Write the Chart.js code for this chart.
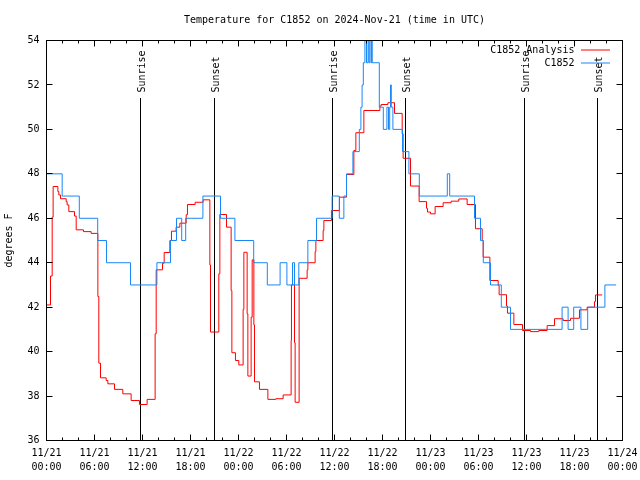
<!DOCTYPE html>
<html>
<head>
<meta charset="utf-8">
<script src="https://cdn.jsdelivr.net/npm/chart.js@4.4.1/dist/chart.umd.min.js"></script>
<style>
html,body{margin:0;padding:0;background:#fff;}
#wrap{width:640px;height:480px;}
</style>
</head>
<body>
<div id="wrap"><canvas id="c" width="640" height="480"></canvas></div>
<script>
// ---- data (hours since 2024-11-21 00:00 UTC) ----
const titleText = 'Temperature for C1852 on 2024-Nov-21 (time in UTC)';
const seriesNames = ['C1852 Analysis', 'C1852'];

const redTimes = [0.0, 0.5, 0.71, 0.83, 1.42, 1.54, 1.75, 2.46, 2.58, 2.79, 3.5, 3.71, 4.62, 5.58, 6.42, 6.54, 6.75, 7.46, 7.67, 8.5,
  9.54, 10.58, 11.62, 12.58, 13.58, 13.71, 14.5, 14.71, 15.42, 15.62, 16.2, 16.67, 17.46, 17.62, 18.58, 19.58, 20.42, 20.5, 21.54, 21.67,
  22.5, 23.08, 23.17, 23.62, 24.04, 24.58, 24.67, 25.08, 25.17, 25.58, 25.71, 25.92, 26.0, 26.62, 27.67, 28.67, 29.58, 30.58, 30.62, 31.0,
  31.08, 31.58, 32.58, 32.67, 33.58, 33.67, 34.58, 34.67, 35.62, 36.62, 37.5, 38.42, 38.67, 39.67, 41.67, 41.83, 42.67, 43.5, 44.46, 44.58,
  45.5, 46.58, 47.5, 47.62, 48.0, 48.58, 49.58, 50.58, 51.54, 52.58, 53.62, 54.46, 54.58, 55.42, 56.46, 56.58, 57.5, 57.62, 58.42, 59.5,
  60.5, 61.54, 62.58, 63.5, 64.58, 65.5, 66.62, 67.58, 68.5, 68.62, 69.46];
const redValues = [42.1, 43.4, 46.05, 47.43, 47.2, 47.05, 46.88, 46.75, 46.6, 46.3, 46.1, 45.48, 45.4, 45.32, 42.48, 39.48, 38.82, 38.7, 38.55, 38.3,
  38.1, 37.8, 37.62, 37.85, 40.8, 43.68, 43.98, 44.46, 45.0, 45.42, 45.6, 45.78, 46.16, 46.62, 46.72, 46.83, 43.9, 40.88, 43.5, 46.17,
  45.6, 42.75, 39.95, 39.6, 39.4, 41.9, 44.47, 41.7, 38.9, 41.55, 44.13, 41.2, 38.64, 38.3, 37.85, 37.88, 38.05, 40.5, 43.0, 40.4,
  37.72, 43.3, 43.68, 44.0, 44.5, 45.0, 45.45, 45.9, 46.35, 46.95, 47.97, 49.05, 49.85, 50.85, 51.05, 51.12, 51.2, 50.72, 49.8, 48.7,
  47.45, 46.75, 46.45, 46.28, 46.2, 46.53, 46.7, 46.77, 46.87, 46.62, 45.53, 45.0, 44.25, 43.2, 42.98, 42.56, 42.05, 41.73, 41.22, 40.95,
  40.9, 40.95, 41.17, 41.48, 41.4, 41.5, 41.88, 42.0, 42.25, 42.55, 42.55];

const blueTimes = [0, 1.96, 4.1, 6.4, 7.5, 10.5, 13.8, 15.5, 16.25, 16.9, 17.4, 19.55, 21.75, 23.55, 25.9, 27.6, 29.2, 30.05, 30.75, 31.0,
  31.54, 32.67, 33.75, 35.7, 36.6, 37.17, 37.5, 38.3, 39.1, 39.3, 39.45, 39.6, 39.8, 40.0, 40.2, 40.3, 40.42, 40.58, 40.65, 40.71,
  41.6, 42.1, 42.55, 42.75, 42.9, 43.0, 43.1, 43.3, 44.5, 45.3, 46.6, 50.1, 50.4, 53.5, 54.25, 54.6, 55.5, 56.85, 58.0, 64.45,
  65.2, 65.9, 66.8, 67.65, 69.8, 71.2];
const blueValues = [48, 47, 46, 45, 44, 43, 44, 45, 46, 45, 46, 47, 46, 45, 44, 43, 44, 43, 44, 43,
  44, 45, 46, 47, 46, 47, 48, 49, 50, 51, 52, 53, 55, 53, 55, 53, 55, 53, 55, 53,
  51, 50, 51, 50, 51, 52, 51, 50, 49, 48, 47, 48, 47, 46, 45, 44, 43, 42, 41, 42,
  41, 42, 41, 42, 43, 43];

const sunriseTimes = [11.7, 35.7, 59.7];
const sunsetTimes = [20.95, 44.85, 68.83];

const xTickLabels = ['11/21\n00:00', '11/21\n06:00', '11/21\n12:00', '11/21\n18:00', '11/22\n00:00', '11/22\n06:00', '11/22\n12:00',
  '11/22\n18:00', '11/23\n00:00', '11/23\n06:00', '11/23\n12:00', '11/23\n18:00', '11/24\n00:00'];
const yTickValues = [36, 38, 40, 42, 44, 46, 48, 50, 52, 54];
const yAxisTitle = 'degrees F';

// ---- styles ----
const FONT = '"DejaVu Sans Mono", "Liberation Mono", monospace';
const RED = '#ff0000';
const BLUE = 'rgb(25,135,245)';

const toPoints = (ts, vs) => ts.map((t, i) => ({x: t, y: vs[i]}));

const decor = {
  id: 'decor',
  beforeDatasetsDraw(chart) {
    const {ctx, chartArea: a, scales: {x}} = chart;
    ctx.save();
    ctx.strokeStyle = '#000';
    ctx.fillStyle = '#000';
    ctx.lineWidth = 1;
    ctx.font = '10px ' + FONT;
    const marks = sunriseTimes.map(t => [t, 'Sunrise']).concat(sunsetTimes.map(t => [t, 'Sunset']));
    marks.forEach(([t, lab]) => {
      const px = Math.round(x.getPixelForValue(t) - 0.5) + 0.5;
      ctx.beginPath();
      ctx.moveTo(px, a.top + 57.5);
      ctx.lineTo(px, a.bottom);
      ctx.stroke();
      ctx.save();
      ctx.translate(px + 1.5, a.top + 52);
      ctx.rotate(-Math.PI / 2);
      ctx.textAlign = 'left';
      ctx.textBaseline = 'middle';
      ctx.fillText(lab, 0, 0);
      ctx.restore();
    });
    ctx.restore();
  },
  afterDatasetsDraw(chart) {
    const {ctx, chartArea: a, scales: {x, y}} = chart;
    ctx.save();
    ctx.strokeStyle = '#000';
    ctx.lineWidth = 1;
    ctx.strokeRect(a.left, a.top, a.right - a.left, a.bottom - a.top);
    ctx.beginPath();
    for (let h = 0; h <= 72; h += 2) {
      const px = Math.round(x.getPixelForValue(h) - 0.5) + 0.5;
      const len = (h % 6 === 0) ? 6 : 3;
      ctx.moveTo(px, a.bottom); ctx.lineTo(px, a.bottom - len);
      ctx.moveTo(px, a.top); ctx.lineTo(px, a.top + len);
    }
    yTickValues.forEach(v => {
      const py = Math.round(y.getPixelForValue(v) - 0.5) + 0.5;
      ctx.moveTo(a.left, py); ctx.lineTo(a.left + 6, py);
      ctx.moveTo(a.right, py); ctx.lineTo(a.right - 6, py);
    });
    ctx.stroke();
    // legend
    ctx.font = '10px ' + FONT;
    ctx.textAlign = 'right';
    ctx.textBaseline = 'middle';
    ctx.fillStyle = '#000';
    const rows = [[seriesNames[0], RED], [seriesNames[1], BLUE]];
    rows.forEach(([name, col], i) => {
      const ry = a.top + 9.5 + i * 13;
      ctx.fillText(name, a.right - 48, ry);
      ctx.strokeStyle = col;
      ctx.beginPath();
      ctx.moveTo(a.right - 41.5, ry);
      ctx.lineTo(a.right - 12.5, ry);
      ctx.stroke();
    });
    ctx.restore();
  }
};

new Chart(document.getElementById('c'), {
  type: 'line',
  data: {
    datasets: [
      {label: seriesNames[0], data: toPoints(redTimes, redValues), borderColor: RED, borderWidth: 1,
       pointRadius: 0, stepped: true, fill: false, order: 1},
      {label: seriesNames[1], data: toPoints(blueTimes, blueValues), borderColor: BLUE, borderWidth: 1,
       pointRadius: 0, stepped: true, fill: false, order: 0}
    ]
  },
  options: {
    responsive: false,
    animation: false,
    devicePixelRatio: 1,
    layout: {padding: {left: 0, right: 17.5, top: 0, bottom: 0}},
    plugins: {
      legend: {display: false},
      tooltip: {enabled: false},
      title: {
        display: true, text: titleText, fullSize: false, color: '#000',
        font: {family: FONT, size: 10, weight: 'normal', lineHeight: 1.2},
        padding: {top: 14.5, bottom: 14}
      }
    },
    scales: {
      x: {
        type: 'linear', min: 0, max: 72,
        grid: {display: false, drawTicks: false},
        border: {display: false},
        ticks: {
          stepSize: 6, autoSkip: false, maxRotation: 0, minRotation: 0, color: '#000', padding: 6,
          font: {family: FONT, size: 10, lineHeight: 1.4},
          callback: (v) => xTickLabels[Math.round(v / 6)].split('\n')
        },
        afterFit: (s) => { s.height = 39.5; s.paddingLeft = 0; s.paddingRight = 0; }
      },
      y: {
        min: 36, max: 54,
        grid: {display: false, drawTicks: false},
        border: {display: false},
        ticks: {stepSize: 2, color: '#000', padding: 7, font: {family: FONT, size: 10}},
        title: {display: true, text: yAxisTitle, color: '#000', font: {family: FONT, size: 10}, padding: {top: 3.5, bottom: 0}},
        afterFit: (s) => { s.width = 46.5; s.paddingTop = 0; s.paddingBottom = 0; }
      }
    }
  },
  plugins: [decor]
});
</script>
</body>
</html>
